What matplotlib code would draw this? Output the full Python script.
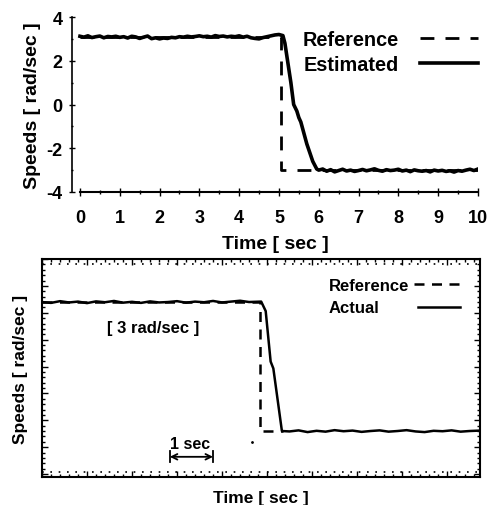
import numpy as np
import matplotlib
matplotlib.use('Agg')
import matplotlib.pyplot as plt
from matplotlib.ticker import MultipleLocator

plt.rcParams['font.family'] = ['Liberation Sans', 'DejaVu Sans']
plt.rcParams['font.weight'] = 'bold'
plt.rcParams['axes.unicode_minus'] = False

# Grafico superior: velocidad estimada
t_est = [0.0, 0.1, 0.2, 0.3, 0.4, 0.5, 0.6, 0.7, 0.8, 0.9,
         1.0, 1.1, 1.2, 1.3, 1.4, 1.5, 1.6, 1.7, 1.8, 1.9,
         2.0, 2.1, 2.2, 2.3, 2.4, 2.5, 2.6, 2.7, 2.8, 2.9,
         3.0, 3.1, 3.2, 3.3, 3.4, 3.5, 3.6, 3.7, 3.8, 3.9,
         4.0, 4.1, 4.2, 4.3, 4.4, 4.5, 4.6, 4.7, 4.8, 4.9,
         5.0, 5.1, 5.15, 5.3, 5.37, 5.45, 5.5, 5.55, 5.7, 5.85, 5.95,
         6.0, 6.1, 6.2, 6.3, 6.4, 6.5, 6.6, 6.7, 6.8, 6.9,
         7.0, 7.1, 7.2, 7.3, 7.4, 7.5, 7.6, 7.7, 7.8, 7.9,
         8.0, 8.1, 8.2, 8.3, 8.4, 8.5, 8.6, 8.7, 8.8, 8.9,
         9.0, 9.1, 9.2, 9.3, 9.4, 9.5, 9.6, 9.7, 9.8, 9.9, 10.0]
w_est = [3.12, 3.08, 3.14, 3.06, 3.1, 3.13, 3.05, 3.11, 3.09, 3.12,
         3.07, 3.1, 3.04, 3.12, 3.09, 3.02, 3.08, 3.13, 3.01, 3.05,
         3.0, 3.04, 3.02, 3.07, 3.05, 3.1, 3.08, 3.12, 3.09, 3.11,
         3.14, 3.1, 3.12, 3.08, 3.15, 3.11, 3.13, 3.09, 3.12, 3.1,
         3.14, 3.08, 3.12, 3.05, 3.02, 3.0, 3.06, 3.1, 3.14, 3.18,
         3.2, 3.15, 2.8, 1.0, 0.0, -0.3, -0.6, -0.8, -1.8, -2.6, -2.95,
         -3.0, -2.95, -3.05, -2.98, -3.08, -3.02, -2.96, -3.04, -3.0, -3.06,
         -3.02, -2.97, -3.03, -2.99, -2.94, -3.01, -3.05, -2.98, -3.02, -3.0,
         -2.96, -3.04, -3.0, -3.07, -2.99, -3.03, -3.05, -3.02, -3.08, -3.0,
         -3.04, -3.01, -3.06, -3.03, -3.09, -3.02, -3.05, -3.0, -2.96, -3.02, -2.95]
t_ref = [0.0, 5.05, 5.05, 10.0]
w_ref = [3.1, 3.1, -3.0, -3.0]

# Grafico inferior: velocidad real
t_act = [0.0, 0.2, 0.4, 0.6, 0.8, 1.0, 1.2, 1.4, 1.6, 1.8,
         2.0, 2.2, 2.4, 2.6, 2.8, 3.0, 3.2, 3.4, 3.6, 3.8,
         4.0, 4.2, 4.4, 4.6, 4.87, 4.97, 5.08, 5.14, 5.33,
         5.5, 5.7, 5.9, 6.1, 6.3, 6.5, 6.7, 6.9, 7.1, 7.3,
         7.5, 7.7, 7.9, 8.1, 8.3, 8.5, 8.7, 8.9, 9.1, 9.3, 9.5, 9.73]
w_act = [3.0, 2.96, 3.04, 2.98, 3.02, 2.95, 3.03, 2.99, 3.05, 2.97,
         3.01, 2.96, 3.03, 2.98, 3.0, 3.04, 2.97, 3.02, 2.99, 3.05,
         2.98, 3.02, 3.06, 3.0, 3.02, 2.58, 0.23, -0.09, -3.0,
         -3.02, -2.97, -3.05, -2.99, -3.03, -2.96, -3.01, -2.98, -3.04, -3.0,
         -2.97, -3.03, -3.0, -2.96, -3.02, -3.05, -2.99, -3.01, -2.97, -3.03, -3.0, -2.98]
t_ref2 = [0.0, 4.84, 4.84, 5.35]
w_ref2 = [3.0, 3.0, -3.0, -3.0]

fig = plt.figure(figsize=(4.91, 5.06), dpi=100)

# --- arriba ---
ax1 = fig.add_axes([0.1466, 0.6186, 0.8268, 0.3458])
l_ref, = ax1.plot(t_ref, w_ref, color='black', linestyle=(0, (5, 4)), linewidth=2, label='Reference')
l_est, = ax1.plot(t_est, w_est, color='black', linewidth=2.6, label='Estimated')
ax1.set_xlim(-0.2, 10)
ax1.set_ylim(-4, 4)
ax1.spines['top'].set_visible(False)
ax1.spines['right'].set_visible(False)
ax1.spines['bottom'].set_bounds(0, 10)
ax1.spines['left'].set_linewidth(1.2)
ax1.spines['bottom'].set_linewidth(1.5)
ax1.xaxis.set_major_locator(MultipleLocator(1))
ax1.xaxis.set_minor_locator(MultipleLocator(0.5))
ax1.yaxis.set_major_locator(MultipleLocator(2))
ax1.yaxis.set_minor_locator(MultipleLocator(1))
ax1.tick_params(axis='x', which='major', direction='inout', length=6, width=1, pad=9, labelsize=13)
ax1.tick_params(axis='x', which='minor', direction='inout', length=3, width=1)
ax1.tick_params(axis='y', which='major', direction='inout', length=4, width=1, pad=5, labelsize=13)
ax1.tick_params(axis='y', which='minor', direction='inout', length=2, width=1)
ax1.set_xlabel('Time [ sec ]', fontsize=14, fontweight='bold', labelpad=7)
ax1.set_ylabel('Speeds [ rad/sec ]', fontsize=14, fontweight='bold', labelpad=4)
ax1.legend(loc='upper right', bbox_to_anchor=(1.0, 0.925), frameon=False, markerfirst=False,
           handlelength=2.9, handletextpad=1.1, labelspacing=0.3, borderaxespad=0,
           borderpad=0, prop={'size': 14.3, 'weight': 'bold'})

# --- abajo ---
ax2 = fig.add_axes([0.0855, 0.0553, 0.892, 0.4308])
r2, = ax2.plot(t_ref2, w_ref2, color='black', linestyle=(0, (4, 3)), linewidth=1.8)
a2, = ax2.plot(t_act, w_act, color='black', linewidth=1.8)
ax2.set_xlim(0, 9.73)
ax2.set_ylim(-5.14, 5.0)
for s in ax2.spines.values():
    s.set_linewidth(1.5)
ax2.xaxis.set_major_locator(MultipleLocator(1))
ax2.xaxis.set_minor_locator(MultipleLocator(0.2))
ax2.yaxis.set_major_locator(MultipleLocator(1.25))
ax2.yaxis.set_minor_locator(MultipleLocator(0.25))
ax2.tick_params(which='major', direction='in', length=4, width=1, top=True, right=True,
                labelbottom=False, labelleft=False)
ax2.tick_params(which='minor', direction='in', length=2, width=1, top=True, right=True)
ax2.axhline(4.77, color='black', linestyle=(0, (1, 4)), linewidth=1.2)
ax2.axhline(-4.9, color='black', linestyle=(0, (1, 4)), linewidth=1.2)
ax2.text(1.44, 1.8, '[ 3 rad/sec ]', fontsize=12, fontweight='bold', va='center', ha='left')
ax2.text(3.3, -3.6, '1 sec', fontsize=11.5, fontweight='bold', va='center', ha='center')
ax2.annotate('', xy=(2.84, -4.2), xytext=(3.8, -4.2),
             arrowprops=dict(arrowstyle='<->', color='black', lw=1.3, shrinkA=0, shrinkB=0))
ax2.plot([2.84, 2.84], [-3.95, -4.45], color='black', linewidth=1.3)
ax2.plot([3.8, 3.8], [-3.95, -4.45], color='black', linewidth=1.3)
ax2.plot([4.67], [-3.5], marker='.', color='black', markersize=2)
ax2.set_xlabel('Time [ sec ]', fontsize=12.5, fontweight='bold', labelpad=6)
ax2.set_ylabel('Speeds [ rad/sec ]', fontsize=12.5, fontweight='bold', labelpad=7)
leg_a = ax2.legend([r2], ['Reference'], loc='upper left', bbox_to_anchor=(0.655, 0.915),
                   frameon=False, markerfirst=False, handlelength=2.7, handletextpad=0.3,
                   borderaxespad=0, borderpad=0, prop={'size': 12, 'weight': 'bold'})
ax2.add_artist(leg_a)
ax2.legend([a2], ['Actual'], loc='upper left', bbox_to_anchor=(0.655, 0.81),
           frameon=False, markerfirst=False, handlelength=2.5, handletextpad=2.3,
           borderaxespad=0, borderpad=0, prop={'size': 12, 'weight': 'bold'})

fig.savefig('out.png', dpi=100)
